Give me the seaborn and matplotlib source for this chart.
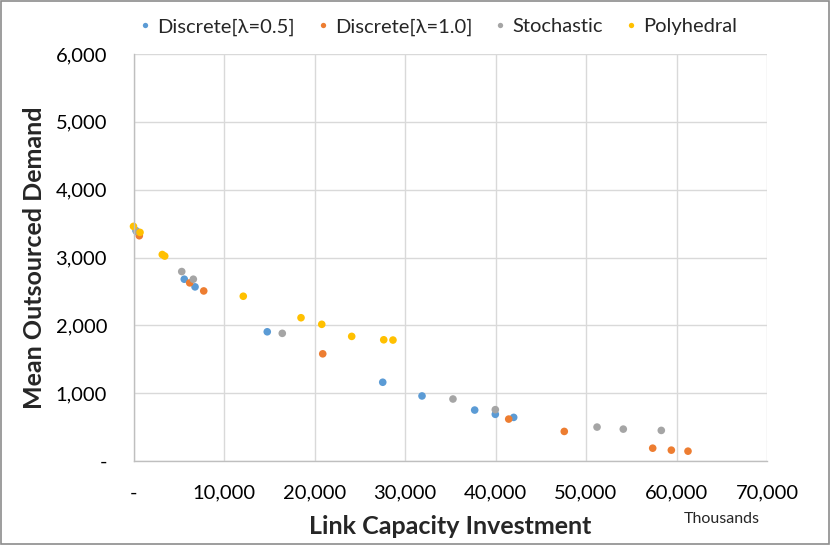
import pandas as pd
import seaborn as sns
import matplotlib.pyplot as plt
from matplotlib.patches import Rectangle
from matplotlib.ticker import FuncFormatter, MultipleLocator

# investment (thousands) and mean outsourced demand per method
disc05_x = [280, 5610, 6800, 14780, 27540, 31880, 37700, 39980, 42010]
disc05_y = [3395, 2680, 2567, 1905, 1161, 959, 751, 688, 643]

disc10_x = [640, 6210, 7760, 20910, 41460, 47600, 57370, 59430, 61270]
disc10_y = [3321, 2626, 2507, 1580, 618, 436, 189, 160, 145]

stoch_x = [350, 5330, 6610, 16440, 35300, 39980, 51220, 54120, 58320]
stoch_y = [3385, 2793, 2680, 1882, 914, 757, 500, 470, 451]

poly_x = [0, 720, 3180, 3450, 12130, 18510, 20800, 24110, 27650, 28670]
poly_y = [3459, 3370, 3044, 3021, 2429, 2112, 2015, 1837, 1787, 1783]

labels = ["Discrete[λ=0.5]", "Discrete[λ=1.0]", "Stochastic", "Polyhedral"]
colors = ["#5B9BD5", "#ED7D31", "#A5A5A5", "#FFC000"]

frames = []
for name, xs, ys in zip(labels,
                        [disc05_x, disc10_x, stoch_x, poly_x],
                        [disc05_y, disc10_y, stoch_y, poly_y]):
    frames.append(pd.DataFrame({"investment": xs, "demand": ys, "method": name}))
df = pd.concat(frames, ignore_index=True)

sns.set_style("white")
plt.rcParams["font.family"] = ["Lato", "DejaVu Sans"]

fig = plt.figure(figsize=(8.3, 5.45), dpi=100)
ax = fig.add_axes([133.5 / 830, 1 - 461 / 545, (767 - 133.5) / 830, (461 - 54) / 545])

sns.scatterplot(
    data=df,
    x="investment",
    y="demand",
    hue="method",
    hue_order=labels,
    palette=colors,
    s=30,
    linewidth=0,
    clip_on=False,
    ax=ax
)

ax.set_xlim(0, 70000)
ax.set_ylim(0, 6000)
ax.xaxis.set_major_locator(MultipleLocator(10000))
ax.yaxis.set_major_locator(MultipleLocator(1000))

fmt = FuncFormatter(lambda v, p: "-" if v == 0 else f"{int(v):,}")
ax.xaxis.set_major_formatter(fmt)
ax.yaxis.set_major_formatter(fmt)
ax.tick_params(axis="both", labelsize=14.5, length=0, colors="#000000")
ax.tick_params(axis="x", pad=17)
ax.tick_params(axis="y", pad=19)

ax.grid(True, color="#D9D9D9", linewidth=1)
ax.set_axisbelow(True)
for side in ["top", "right"]:
    ax.spines[side].set_visible(False)
for side in ["left", "bottom"]:
    ax.spines[side].set_color("#BFBFBF")
    ax.spines[side].set_linewidth(1)

ax.set_xlabel("Link Capacity Investment", fontsize=18, fontweight="bold", labelpad=10)
ax.set_ylabel("Mean Outsourced Demand", fontsize=18, fontweight="bold", labelpad=7)
ax.text(760 / 830, 1 - 519 / 545, "Thousands", transform=fig.transFigure, fontsize=11.5,
        ha="right", va="center")

ax.legend(
    loc="center",
    bbox_to_anchor=(437 / 830, 1 - 27 / 545),
    bbox_transform=fig.transFigure,
    ncol=4,
    frameon=False,
    fontsize=14.5,
    markerscale=0.7,
    handlelength=0.8,
    handletextpad=0.2,
    columnspacing=1.0,
    title=None
)

fig.patches.append(Rectangle((0.001, 0.001), 0.998, 0.998, transform=fig.transFigure,
                             fill=False, edgecolor="#8C8C8C", linewidth=1.2))

plt.savefig("out.png", dpi=100)
